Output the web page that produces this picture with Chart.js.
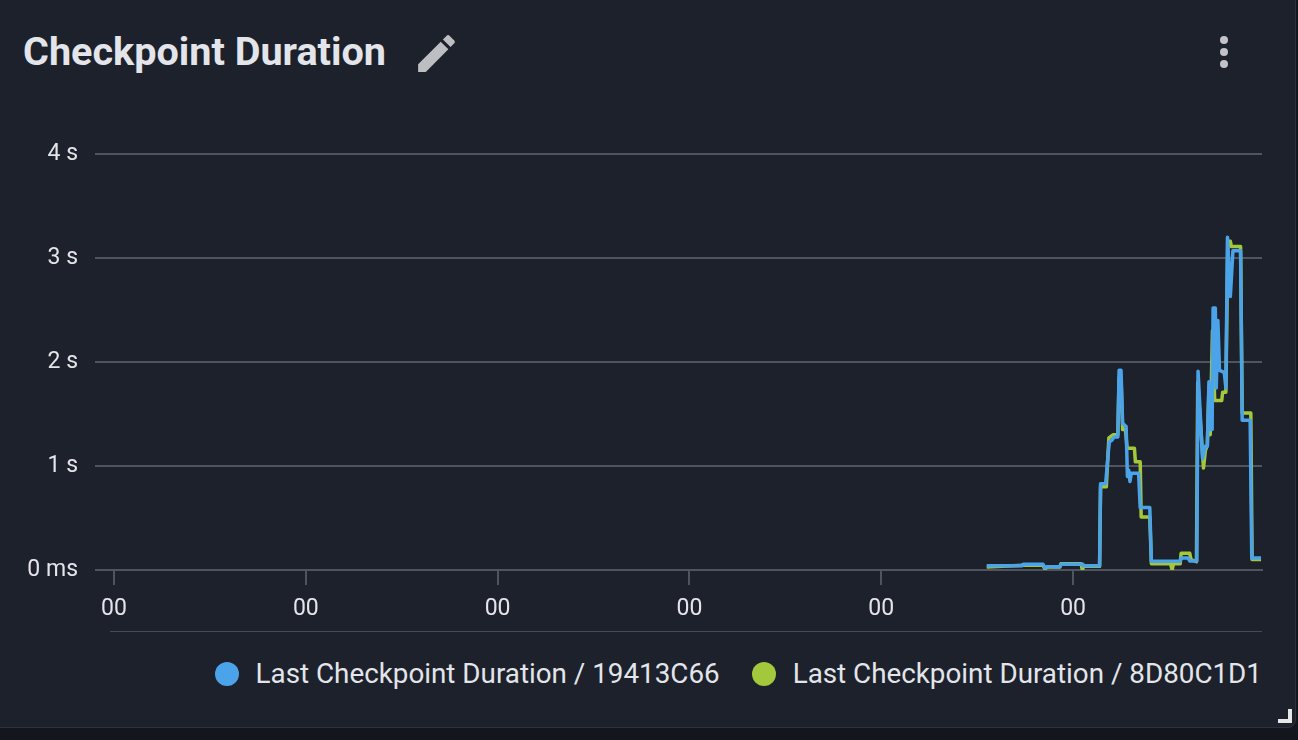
<!DOCTYPE html>
<html>
<head>
<meta charset="utf-8">
<script src="https://cdn.jsdelivr.net/npm/chart.js@4/dist/chart.umd.min.js"></script>
<style>
  html, body { margin: 0; padding: 0; width: 1298px; height: 740px; overflow: hidden; background: #13171d; font-family: Roboto, "Noto Sans", sans-serif; }
  #panel { position: absolute; left: -10px; top: -10px; width: 1304px; height: 736px; background: #1c212b; border: 1px solid #2c323c; border-radius: 8px; }
  #title { position: absolute; left: 23px; top: 32px; font-size: 39.6px; line-height: 40px; font-weight: bold; color: #e3e5ea; white-space: nowrap; }
  #pencil { position: absolute; left: 412px; top: 29px; width: 49px; height: 49px; }
  .dot { position: absolute; left: 1220px; width: 8px; height: 8px; border-radius: 50%; background: #c1c3c8; }
  #sep { position: absolute; left: 110px; top: 631px; width: 1152px; height: 1px; background: #464b54; }
  #legend { position: absolute; right: 36px; top: 660px; height: 28px; display: flex; align-items: center; font-size: 27.8px; line-height: 28px; color: #e3e5ea; white-space: nowrap; }
  .lg { display: flex; align-items: center; }
  .lg + .lg { margin-left: 32px; }
  .sw { width: 24px; height: 24px; border-radius: 50%; margin-right: 17px; }
  #corner { position: absolute; left: 1278px; top: 709px; width: 14px; height: 14px; }
  #cv { position: absolute; left: 0; top: 0; }
</style>
</head>
<body>
<div id="panel"></div>
<div id="title">Checkpoint Duration</div>
<svg id="pencil" viewBox="0 0 24 24"><path fill="#bdbec2" d="M3 17.25V21h3.75L17.81 9.94l-3.75-3.75L3 17.25zM20.71 7.04c.39-.39.39-1.02 0-1.41l-2.34-2.34c-.39-.39-1.02-.39-1.41 0l-1.83 1.83 3.75 3.75 1.83-1.83z"/></svg>
<div class="dot" style="top:36px"></div>
<div class="dot" style="top:48px"></div>
<div class="dot" style="top:60px"></div>
<div id="sep"></div>
<div id="legend"></div>
<svg id="corner" viewBox="0 0 14 14"><path fill="#e6e7eb" d="M10 0h4v14H0v-4h10z"/></svg>
<canvas id="cv" width="1298" height="740"></canvas>
<script>
// ---- data (x in minutes; ticks every 60) ----
const seriesNames = ["Last Checkpoint Duration / 19413C66", "Last Checkpoint Duration / 8D80C1D1"];
const seriesColors = ["#4ba4ea", "#a3c83c"];
const xTickValues = [0, 60, 120, 180, 240, 300];
const xTickLabel = "00";
const yTickLabels = ["0 ms", "1 s", "2 s", "3 s", "4 s"];

const blueTimes = [273.0, 284.0, 284.4, 290.6, 291.2, 292.0, 295.9, 296.2, 302.8, 303.1, 308.3, 308.6, 310.2, 311.3, 312.2, 312.8, 314.0, 314.4, 315.0, 315.5, 316.6, 317.0, 317.4, 317.8, 318.2, 320.5, 321.0, 324.0, 324.5, 333.5, 333.8, 336.0, 336.5, 338.7, 339.1, 340.5, 341.4, 342.0, 342.5, 342.9, 343.5, 343.8, 344.5, 344.8, 345.3, 345.8, 347.3, 347.8, 348.3, 349.2, 350.0, 352.4, 352.9, 355.4, 355.9, 358.8];
const blueValues = [0.04, 0.04, 0.055, 0.055, 0.02, 0.032, 0.032, 0.055, 0.055, 0.04, 0.04, 0.83, 0.83, 1.23, 1.25, 1.28, 1.28, 1.92, 1.92, 1.41, 1.38, 0.90, 0.96, 0.85, 0.93, 0.93, 0.60, 0.60, 0.085, 0.085, 0.115, 0.115, 0.087, 0.087, 1.91, 1.07, 1.19, 1.19, 1.81, 1.35, 1.35, 2.52, 2.52, 1.75, 2.40, 1.92, 1.90, 1.75, 3.20, 2.63, 3.07, 3.07, 1.44, 1.44, 0.115, 0.115];

const greenTimes = [273.0, 284.4, 290.6, 291.2, 292.0, 295.9, 296.2, 302.5, 302.9, 303.3, 308.3, 308.6, 310.4, 311.2, 312.5, 314.0, 314.4, 315.0, 315.5, 316.4, 316.9, 319.2, 319.5, 321.0, 321.3, 324.0, 324.5, 330.5, 331.0, 331.4, 333.5, 333.8, 336.5, 336.9, 338.6, 339.0, 340.8, 341.4, 342.0, 342.5, 342.9, 343.6, 344.3, 346.5, 346.8, 347.8, 348.4, 349.2, 349.5, 352.4, 352.9, 355.6, 356.0, 358.8];
const greenValues = [0.03, 0.045, 0.045, 0.01, 0.03, 0.03, 0.06, 0.06, 0.0, 0.035, 0.035, 0.80, 0.80, 1.27, 1.30, 1.30, 1.85, 1.85, 1.35, 1.35, 1.17, 1.17, 1.04, 1.04, 0.51, 0.51, 0.06, 0.06, 0.0, 0.06, 0.06, 0.16, 0.16, 0.10, 0.08, 1.80, 0.98, 1.15, 1.20, 1.75, 1.30, 2.30, 1.63, 1.63, 1.71, 1.71, 3.16, 3.16, 3.11, 3.11, 1.51, 1.51, 0.10, 0.10];

function pts(ts, vs) { return ts.map((t, i) => ({ x: t, y: vs[i] })); }

// legend (HTML)
const lg = document.getElementById('legend');
seriesNames.forEach((n, i) => {
  const d = document.createElement('div'); d.className = 'lg';
  const s = document.createElement('div'); s.className = 'sw'; s.style.background = seriesColors[i];
  const t = document.createElement('span'); t.textContent = n;
  d.appendChild(s); d.appendChild(t); lg.appendChild(d);
});

const gridColor = '#50555d';
const tickColor = '#e3e5ea';

new Chart(document.getElementById('cv'), {
  type: 'line',
  data: {
    datasets: [
      { label: seriesNames[0], data: pts(blueTimes, blueValues), borderColor: seriesColors[0], backgroundColor: seriesColors[0], borderWidth: 3.5, pointRadius: 0, tension: 0, borderJoinStyle: 'round' },
      { label: seriesNames[1], data: pts(greenTimes, greenValues), borderColor: seriesColors[1], backgroundColor: seriesColors[1], borderWidth: 3.5, pointRadius: 0, tension: 0, borderJoinStyle: 'round' }
    ]
  },
  options: {
    responsive: false,
    animation: false,
    devicePixelRatio: 1,
    layout: { padding: { top: 154, left: 0, right: 36, bottom: 120 } },
    plugins: { legend: { display: false }, tooltip: { enabled: false } },
    scales: {
      x: {
        type: 'linear',
        min: -1.25,
        max: 359.1,
        afterFit: (s) => { s.height = 50; },
        afterBuildTicks: (s) => { s.ticks = xTickValues.map(v => ({ value: v })); },
        grid: { display: true, drawOnChartArea: false, drawTicks: true, tickLength: 15, color: gridColor, lineWidth: 2 },
        border: { display: true, color: gridColor, width: 2 },
        ticks: { color: tickColor, font: { family: 'Roboto', size: 23 }, padding: 10, maxRotation: 0, autoSkip: false, callback: () => xTickLabel }
      },
      y: {
        min: 0,
        max: 4,
        afterFit: (s) => { s.width = 110; },
        grid: { color: gridColor, tickLength: 15, drawTicks: true, lineWidth: 2 },
        border: { display: false },
        ticks: { stepSize: 1, color: tickColor, font: { family: 'Roboto', size: 23 }, padding: 17, callback: (v) => yTickLabels[v] }
      }
    }
  }
});
</script>
</body>
</html>
